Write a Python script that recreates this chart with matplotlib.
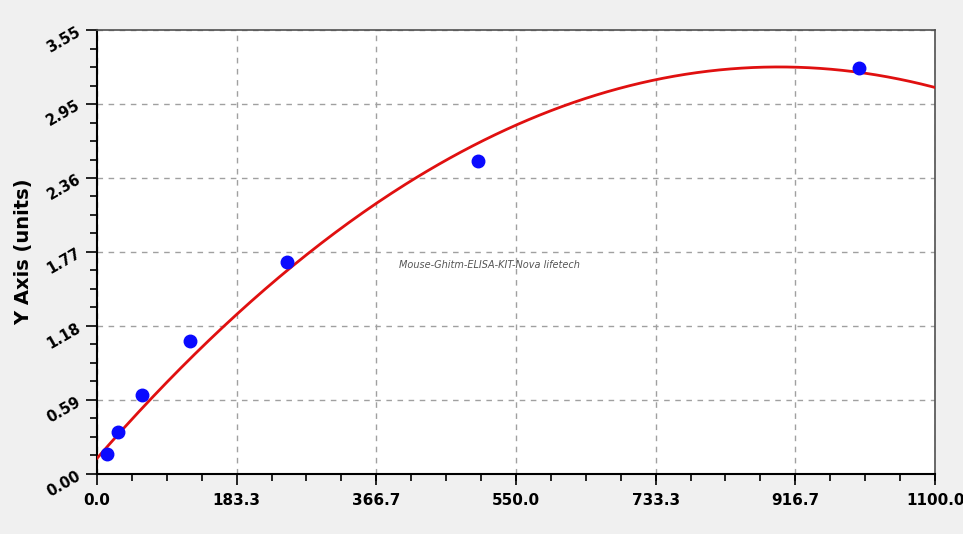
import numpy as np
import matplotlib
matplotlib.use("Agg")
import matplotlib.pyplot as plt
from matplotlib.ticker import AutoMinorLocator

# standard points
conc = [13, 28, 59, 122, 250, 500, 1000]
od = [0.160, 0.336, 0.634, 1.066, 1.697, 2.505, 3.246]

# quadratic curve as drawn in the picture: a + b*x + c*x^2
fit_a = 0.125
fit_b = 6.9935e-3
fit_c = -3.907e-6

x_ticks = [0, 183.3, 366.7, 550.0, 733.3, 916.7, 1100.0]
x_labels = ["0.0", "183.3", "366.7", "550.0", "733.3", "916.7", "1100.0"]
y_ticks = [i * 3.55 / 6 for i in range(7)]
y_labels = ["0.00", "0.59", "1.18", "1.77", "2.36", "2.95", "3.55"]

xs = np.linspace(0, 1100, 300)
ys = fit_a + fit_b * xs + fit_c * xs ** 2

fig = plt.figure(figsize=(9.63, 5.34), dpi=100, facecolor="#f0f0f0")
ax = fig.add_axes([0.1007, 0.1124, 0.8703, 0.8314])
ax.set_facecolor("white")

ax.plot(xs, ys, color="#e01010", lw=2, zorder=3)
ax.plot(conc, od, "o", color="#0a0aff", ms=9, zorder=4)

ax.set_xlim(0, 1100)
ax.set_ylim(0, 3.55)
ax.set_xticks(x_ticks)
ax.set_xticklabels(x_labels, fontsize=11, fontweight="bold")
ax.set_yticks(y_ticks)
ax.set_yticklabels(y_labels, fontsize=10.5, fontweight="bold", rotation=30)
ax.xaxis.set_minor_locator(AutoMinorLocator(4))
ax.yaxis.set_minor_locator(AutoMinorLocator(4))
ax.tick_params(which="major", length=8, width=1.2, color="black", pad=6)
ax.tick_params(which="minor", length=5, width=1.2, color="black")
ax.tick_params(axis="y", pad=2)
ax.grid(True, which="major", ls=(0, (4, 4)), color="#a0a0a0", lw=1)

for s in ["left", "bottom"]:
    ax.spines[s].set_linewidth(1.5)
for s in ["top", "right"]:
    ax.spines[s].set_color("#505050")
    ax.spines[s].set_linewidth(1.2)

ax.set_ylabel("Y Axis (units)", fontsize=14, fontweight="bold", labelpad=8)

ax.text(0.468, 0.47, "Mouse-Ghitm-ELISA-KIT-Nova lifetech", transform=ax.transAxes,
        fontsize=7, style="italic", color="#555555", ha="center", va="center")

fig.savefig("out.png", dpi=100, facecolor=fig.get_facecolor())
